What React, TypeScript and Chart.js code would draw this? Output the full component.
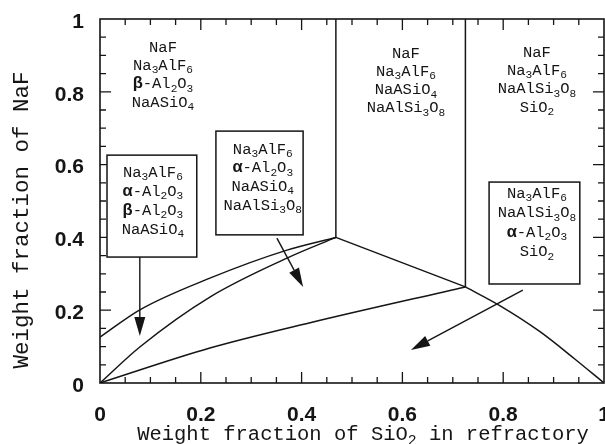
import { useEffect, useRef } from 'react';
import { Chart, registerables } from 'chart.js';

Chart.register(...registerables);

// ---- tick labels ----
const xTickLabels = ['0', '0.2', '0.4', '0.6', '0.8', '1'];
const yTickLabels = ['0', '0.2', '0.4', '0.6', '0.8', '1'];

// ---- phase boundaries (x = weight fraction SiO2, y = weight fraction NaF) ----
const upperCurveX = [0, 0.079, 0.218, 0.371, 0.468];
const upperCurveY = [0.126, 0.201, 0.288, 0.365, 0.4];

const lowerCurveX = [0, 0.079, 0.218, 0.371, 0.468];
const lowerCurveY = [0, 0.099, 0.236, 0.343, 0.4];

const baseLineX = [0, 0.218, 0.415, 0.725];
const baseLineY = [0, 0.096, 0.165, 0.264];

const ridgeX = [0.468, 0.725];
const ridgeY = [0.4, 0.264];

const rightCurveX = [0.725, 0.794, 0.873, 0.942, 1];
const rightCurveY = [0.264, 0.212, 0.141, 0.066, 0];

const divider1X = [0.468, 0.468];
const divider1Y = [0.4, 1];

const divider2X = [0.725, 0.725];
const divider2Y = [0.264, 1];

// ---- region labels ----
const labelTopLeft = ['NaF', 'Na_3AlF_6', 'β-Al_2O_3', 'NaASiO_4'];
const labelTopMid = ['NaF', 'Na_3AlF_6', 'NaASiO_4', 'NaAlSi_3O_8'];
const labelTopRight = ['NaF', 'Na_3AlF_6', 'NaAlSi_3O_8', 'SiO_2'];
const labelBoxA = ['Na_3AlF_6', 'α-Al_2O_3', 'β-Al_2O_3', 'NaASiO_4'];
const labelBoxB = ['Na_3AlF_6', 'α-Al_2O_3', 'NaASiO_4', 'NaAlSi_3O_8'];
const labelBoxC = ['Na_3AlF_6', 'NaAlSi_3O_8', 'α-Al_2O_3', 'SiO_2'];

const xTitle = 'Weight fraction of SiO_2 in refractory';
const yTitle = 'Weight fraction of NaF';

// annotation layout (data coordinates)
const textBlocks = [
  { lines: labelTopLeft, x: 0.125, y: 0.923, gap: 18.3 },
  { lines: labelTopMid, x: 0.607, y: 0.907, gap: 18.3 },
  { lines: labelTopRight, x: 0.867, y: 0.909, gap: 18.3 },
  { lines: labelBoxA, x: 0.105, y: 0.58, gap: 19 },
  { lines: labelBoxB, x: 0.323, y: 0.643, gap: 18.7 },
  { lines: labelBoxC, x: 0.867, y: 0.522, gap: 19.6 },
];
const boxes = [
  { x0: 0.0139, x1: 0.192, y0: 0.346, y1: 0.626 },
  { x0: 0.23, x1: 0.403, y0: 0.407, y1: 0.692 },
  { x0: 0.772, x1: 0.952, y0: 0.272, y1: 0.552 },
];
const arrows = [
  { fx: 0.079, fy: 0.346, tx: 0.079, ty: 0.129 },
  { fx: 0.351, fy: 0.398, tx: 0.403, ty: 0.264 },
  { fx: 0.839, fy: 0.255, tx: 0.617, ty: 0.091 },
];

const INK = '#151515';
const MONO = '"Liberation Mono", monospace';

function toPts(xs: number[], ys: number[]) {
  return xs.map((x, i) => ({ x, y: ys[i] }));
}

function drawRich(ctx: CanvasRenderingContext2D, text: string, cx: number, cy: number, size: number) {
  const segs: { t: string; sub?: boolean; greek?: boolean; w?: number }[] = [];
  let i = 0;
  while (i < text.length) {
    const ch = text[i];
    if (ch === '_') {
      segs.push({ t: text[i + 1], sub: true });
      i += 2;
      continue;
    }
    if (ch === 'α' || ch === 'β') {
      segs.push({ t: ch, greek: true });
      i++;
      continue;
    }
    let j = i;
    while (j < text.length && text[j] !== '_' && text[j] !== 'α' && text[j] !== 'β') j++;
    segs.push({ t: text.slice(i, j) });
    i = j;
  }
  const fontFor = (s: any) =>
    s.sub ? `${size * 0.72}px ${MONO}` : s.greek ? `bold ${size * 1.08}px ${MONO}` : `${size}px ${MONO}`;
  let total = 0;
  for (const s of segs) {
    ctx.font = fontFor(s);
    s.w = ctx.measureText(s.t).width;
    total += s.w;
  }
  let x = cx - total / 2;
  ctx.textAlign = 'left';
  ctx.textBaseline = 'alphabetic';
  const base = cy + size * 0.3;
  for (const s of segs) {
    ctx.font = fontFor(s);
    ctx.fillText(s.t, x, s.sub ? base + size * 0.22 : base);
    x += s.w!;
  }
}

const decorPlugin = {
  id: 'decor',
  afterDatasetsDraw(chart: any) {
    const ctx: CanvasRenderingContext2D = chart.ctx;
    const xs = chart.scales.x;
    const ys = chart.scales.y;
    const { left, right, top, bottom } = chart.chartArea;
    const px = (v: number) => xs.getPixelForValue(v);
    const py = (v: number) => ys.getPixelForValue(v);
    ctx.save();
    ctx.strokeStyle = INK;
    ctx.fillStyle = INK;

    // frame
    ctx.lineWidth = 1.6;
    ctx.strokeRect(left, top, right - left, bottom - top);

    // inward ticks on all sides
    ctx.lineWidth = 1.3;
    for (let k = 1; k < 20; k++) {
      const v = k / 20;
      const len = k % 4 === 0 ? 11 : 6;
      const X = px(v);
      const Y = py(v);
      ctx.beginPath();
      ctx.moveTo(X, bottom);
      ctx.lineTo(X, bottom - len);
      ctx.moveTo(X, top);
      ctx.lineTo(X, top + len);
      ctx.moveTo(left, Y);
      ctx.lineTo(left + len, Y);
      ctx.moveTo(right, Y);
      ctx.lineTo(right - len, Y);
      ctx.stroke();
    }

    // boxes
    ctx.lineWidth = 1.5;
    for (const b of boxes) {
      const x0 = px(b.x0), x1 = px(b.x1), y0 = py(b.y1), y1 = py(b.y0);
      ctx.fillStyle = '#fff';
      ctx.fillRect(x0, y0, x1 - x0, y1 - y0);
      ctx.strokeRect(x0, y0, x1 - x0, y1 - y0);
    }
    ctx.fillStyle = INK;

    // arrows
    for (const a of arrows) {
      const x0 = px(a.fx), y0 = py(a.fy), x1 = px(a.tx), y1 = py(a.ty);
      const ang = Math.atan2(y1 - y0, x1 - x0);
      const hl = 19, hw = 5.5;
      const bx = x1 - hl * Math.cos(ang), by = y1 - hl * Math.sin(ang);
      ctx.lineWidth = 1.4;
      ctx.beginPath();
      ctx.moveTo(x0, y0);
      ctx.lineTo(bx, by);
      ctx.stroke();
      ctx.beginPath();
      ctx.moveTo(x1, y1);
      ctx.lineTo(bx + hw * Math.sin(ang), by - hw * Math.cos(ang));
      ctx.lineTo(bx - hw * Math.sin(ang), by + hw * Math.cos(ang));
      ctx.closePath();
      ctx.fill();
    }

    // text blocks
    for (const tb of textBlocks) {
      const cx = px(tb.x);
      const cy = py(tb.y);
      tb.lines.forEach((ln, i) => drawRich(ctx, ln, cx, cy + i * tb.gap, 15.5));
    }

    // axis titles
    drawRich(ctx, xTitle, (left + right) / 2 + 11, bottom + 51, 20.5);
    ctx.save();
    ctx.translate(left - 79, (top + bottom) / 2 + 19);
    ctx.rotate(-Math.PI / 2);
    drawRich(ctx, yTitle, 0, 0, 22.5);
    ctx.restore();

    ctx.restore();
  },
};

export default function App() {
  const ref = useRef<HTMLCanvasElement>(null);
  useEffect(() => {
    if (!ref.current) return;
    const lineStyle = (curve: boolean) => ({
      borderColor: INK,
      borderWidth: 1.5,
      pointRadius: 0,
      fill: false,
      cubicInterpolationMode: curve ? ('monotone' as const) : ('default' as const),
      tension: 0,
    });
    const zeroPad = (s: any) => {
      s.paddingLeft = 0;
      s.paddingRight = 0;
      s.paddingTop = 0;
      s.paddingBottom = 0;
    };
    const chart = new Chart(ref.current, {
      type: 'line',
      data: {
        datasets: [
          { data: toPts(upperCurveX, upperCurveY), ...lineStyle(true) },
          { data: toPts(lowerCurveX, lowerCurveY), ...lineStyle(true) },
          { data: toPts(baseLineX, baseLineY), ...lineStyle(true) },
          { data: toPts(ridgeX, ridgeY), ...lineStyle(false) },
          { data: toPts(rightCurveX, rightCurveY), ...lineStyle(true) },
          { data: toPts(divider1X, divider1Y), ...lineStyle(false) },
          { data: toPts(divider2X, divider2Y), ...lineStyle(false) },
        ],
      },
      options: {
        animation: false,
        responsive: false,
        layout: { padding: { top: 19, right: 6, left: 0, bottom: 0 } },
        plugins: { legend: { display: false }, tooltip: { enabled: false } },
        scales: {
          x: {
            type: 'linear',
            min: 0,
            max: 1,
            grid: { display: false, drawTicks: false },
            border: { display: false },
            ticks: {
              stepSize: 0.2,
              padding: 20,
              maxRotation: 0,
              autoSkip: false,
              color: INK,
              font: { family: '"Liberation Sans", Arial, sans-serif', size: 21, weight: 'bold' },
              callback: (v: any) => xTickLabels[Math.round(Number(v) / 0.2)],
            },
            afterFit: (s: any) => {
              s.height = 61;
              zeroPad(s);
            },
          },
          y: {
            type: 'linear',
            min: 0,
            max: 1,
            grid: { display: false, drawTicks: false },
            border: { display: false },
            ticks: {
              stepSize: 0.2,
              padding: 16,
              labelOffset: 3,
              color: INK,
              font: { family: '"Liberation Sans", Arial, sans-serif', size: 21, weight: 'bold' },
              callback: (v: any) => yTickLabels[Math.round(Number(v) / 0.2)],
            },
            afterFit: (s: any) => {
              s.width = 100;
              zeroPad(s);
            },
          },
        },
      },
      plugins: [decorPlugin],
    });
    return () => chart.destroy();
  }, []);

  return (
    <div
      style={{
        position: 'fixed',
        left: 0,
        top: 0,
        width: 605,
        height: 444,
        overflow: 'hidden',
        background: '#fff',
      }}
    >
      <canvas ref={ref} width={610} height={444} style={{ display: 'block' }} />
    </div>
  );
}
